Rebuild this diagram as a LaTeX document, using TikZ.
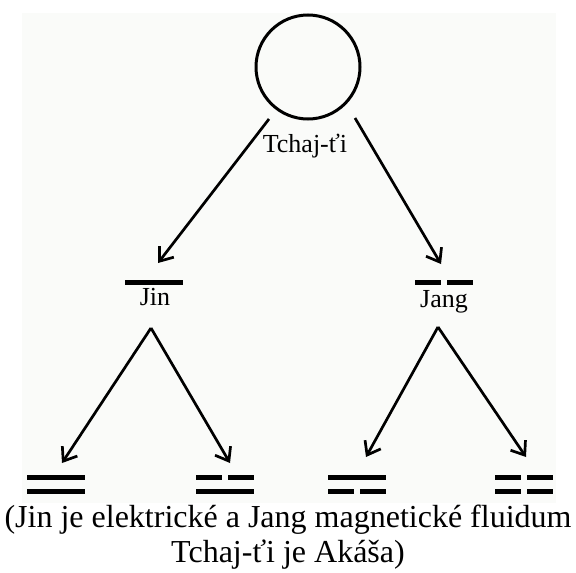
\documentclass[tikz,border=0pt]{standalone}
\usepackage{fontspec}
\setmainfont{Liberation Serif}
\usetikzlibrary{arrows.meta}
\definecolor{paper}{RGB}{250,251,249}

\begin{document}
\begin{tikzpicture}
[x=1pt,y=-1pt,%
  every node/.style={inner sep=0pt,font=\fontsize{26}{26}\selectfont},%
  link/.style={-{Straight Barb[length=12pt,width=18pt]},line width=2.7pt},%
  yang/.style={line width=5pt},%
  yin/.style={line width=5pt,dash pattern=on 26pt off 6pt}]
\useasboundingbox (0,0) rectangle (576,573);
\fill[paper] (22,13) rectangle (556,503);
% root
\node[circle,draw,line width=3pt,minimum size=104pt] (root) at (308,67) {};
\node[anchor=base] (tchaj) at (305,152) {Tchaj-ťi};
\coordinate (rootL) at (269,119);
\coordinate (rootR) at (355,118);
% level 1
\coordinate (jintip) at (158,263);
\coordinate (jangtip) at (441,264);
\draw[yang] (125,282) -- (183,282);
\draw[yin] (415,282) -- (473,282);
\node[anchor=base] (jin) at (155,305) {Jin};
\node[anchor=base] (jang) at (444,307) {Jang};
\coordinate (jinup) at (151,328);
\coordinate (jangup) at (438,327);
\draw[link] (rootL) -- (jintip);
\draw[link] (rootR) -- (jangtip);
% level 2
\coordinate (t1) at (62,463);
\coordinate (t2) at (230,463);
\coordinate (t3) at (366,457);
\coordinate (t4) at (526,457);
\draw[link] (jinup) -- (t1);
\draw[link] (jinup) -- (t2);
\draw[link] (jangup) -- (t3);
\draw[link] (jangup) -- (t4);
\draw[yang] (27,477) -- (85,477) (27,491) -- (85,491);
\draw[yin] (196,477) -- (254,477);
\draw[yang] (196,491) -- (254,491);
\draw[yang] (328,477) -- (386,477);
\draw[yin] (328,491) -- (386,491);
\draw[yin] (495,477) -- (553,477) (495,491) -- (553,491);
% caption
\node[anchor=base,font=\fontsize{32}{35}\selectfont] (cap1) at (288,527)
  {(Jin je elektrické a Jang magnetické fluidum};
\node[anchor=base,font=\fontsize{32}{35}\selectfont] (cap2) at (288,562)
  {Tchaj-ťi je Akáša)};
\end{tikzpicture}
\end{document}
